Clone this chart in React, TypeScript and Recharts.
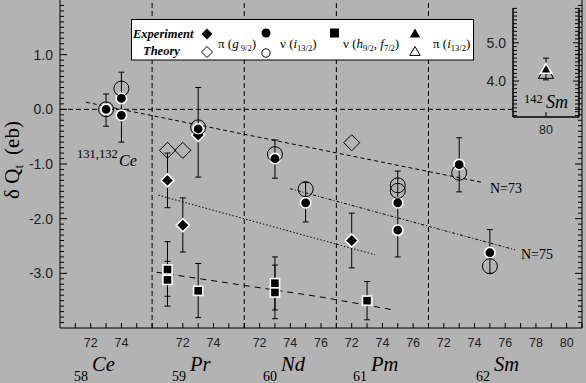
import React from 'react';
import { ComposedChart, Scatter, Line, XAxis, YAxis, ReferenceLine, ErrorBar } from 'recharts';

const SERIF = '"Liberation Serif", "Times New Roman", serif';
const SANS = '"Liberation Sans", Arial, sans-serif';
const BG = '#b3b3b3';

// element blocks along the bottom axis (each block is a neutron-number scale)
const elements = ['Ce', 'Pr', 'Nd', 'Pm', 'Sm'];
const protonNumbers = [58, 59, 60, 61, 62];
const blockFirstN = [70, 70, 71, 71, 71];
const blockSpan = [6, 6, 6, 6, 10];
const nTickLabels = [[72, 74], [72, 74], [72, 74, 76], [72, 74, 76], [72, 74, 76, 78, 80]];

const yTickLabels = [-3, -2, -1, 0, 1];

// [element, N, dQt (eb)]
const expPiG: [string, number, number][] = [
  ['Pr', 71, -1.3], ['Pr', 72, -2.12], ['Pr', 73, -0.47], ['Pm', 72, -2.4],
];
const thPiG: [string, number, number][] = [
  ['Pr', 71, -0.75], ['Pr', 72, -0.75], ['Pm', 72, -0.61],
];
const expNuI: [string, number, number][] = [
  ['Ce', 73, 0.0], ['Ce', 74, 0.2], ['Ce', 74, -0.11], ['Pr', 73, -0.36],
  ['Nd', 73, -0.9], ['Nd', 75, -1.71], ['Pm', 75, -1.71], ['Pm', 75, -2.21],
  ['Sm', 73, -1.01], ['Sm', 75, -2.62],
];
const thNuI: [string, number, number][] = [
  ['Ce', 73, 0.0], ['Ce', 74, 0.38], ['Pr', 73, -0.33], ['Nd', 73, -0.82],
  ['Nd', 75, -1.46], ['Pm', 75, -1.39], ['Pm', 75, -1.49], ['Sm', 73, -1.16],
  ['Sm', 75, -2.87],
];
const expNuHF: [string, number, number][] = [
  ['Pr', 71, -2.93], ['Pr', 71, -3.12], ['Pr', 73, -3.32],
  ['Nd', 73, -3.18], ['Nd', 73, -3.35], ['Pm', 73, -3.5],
];
// [element, N, upper, lower]
const errorRanges: [string, number, number, number][] = [
  ['Ce', 73, 0.28, -0.31], ['Ce', 74, 0.68, -0.6],
  ['Pr', 71, -0.8, -1.8], ['Pr', 71, -2.42, -3.42], ['Pr', 71, -2.78, -3.6],
  ['Pr', 72, -1.62, -2.61], ['Pr', 73, 0.4, -1.24], ['Pr', 73, -2.82, -3.81],
  ['Nd', 73, -0.56, -1.26], ['Nd', 73, -2.7, -3.67], ['Nd', 73, -2.85, -3.83],
  ['Nd', 75, -1.34, -2.06], ['Pm', 72, -1.9, -2.9], ['Pm', 73, -3.15, -3.85],
  ['Pm', 75, -1.13, -2.7], ['Sm', 73, -0.52, -1.51], ['Sm', 75, -2.2, -3.0],
];

// guide lines, x in axis units
const lineN73 = [{ g: 1.69, v: 0.13 }, { g: 27.56, v: -1.34 }];
const lineN75 = [{ g: 14.98, v: -1.45 }, { g: 29.64, v: -2.57 }];
const linePiG = [{ g: 6.4, v: -1.57 }, { g: 20.52, v: -2.66 }];
const lineNuHF = [{ g: 6.3, v: -2.98 }, { g: 16.94, v: -3.43 }, { g: 21.54, v: -3.66 }];
const zeroLine = [{ g: 0, v: 0 }, { g: 29.5, v: 0 }];

// inset: 142Sm
const insetYLabels = [4, 5];
const insetExp = [{ n: 80, v: 4.3, err: [0.27, 0.3] }];
const insetTheory = [{ n: 80, v: 4.2 }];

const blockStart = blockSpan.map((_, i) => blockSpan.slice(0, i).reduce((a, b) => a + b, 0));
const xMax = blockStart[4] + blockSpan[4];
const pos = (el: string, n: number) => {
  const i = elements.indexOf(el);
  return blockStart[i] + n - blockFirstN[i];
};
const toPts = (rows: [string, number, number][]) => rows.map(([el, n, v]) => ({ g: pos(el, n), v }));

const xTicks: number[] = [];
blockSpan.forEach((s, i) => { for (let k = 1; k <= s; k++) xTicks.push(blockStart[i] + k); });
const xLabelAt = new Map<number, string>();
nTickLabels.forEach((arr, i) => arr.forEach((n) => xLabelAt.set(pos(elements[i], n), String(n))));
const dividers = blockStart.slice(1);

const yTicks = Array.from({ length: 59 }, (_, i) => (i - 39) / 10);
const insetYTicks = Array.from({ length: 29 }, (_, i) => (i + 31) / 10);
const isLabel = (list: number[], v: number) => list.some((l) => Math.abs(l - v) < 1e-6);

const errorData = errorRanges.map(([el, n, hi, lo]) => ({
  g: pos(el, n), v: (hi + lo) / 2, err: [(hi - lo) / 2, (hi - lo) / 2],
}));

function BottomTick(p: any) {
  const label = xLabelAt.get(p.payload.value);
  return (
    <g>
      <line x1={p.x} x2={p.x} y1={p.y} y2={p.y - 5} stroke="#000" />
      {label && (
        <text x={p.x} y={p.y + 19} textAnchor="middle" fontFamily={SANS} fontSize={12.5} fill="#222">{label}</text>
      )}
    </g>
  );
}
function TopTick(p: any) {
  return <line x1={p.x} x2={p.x} y1={p.y} y2={p.y + 5} stroke="#000" />;
}
function LeftTick(p: any) {
  const v = p.payload.value;
  const major = isLabel(yTickLabels, v);
  return (
    <g>
      <line x1={p.x} x2={p.x + (Number.isInteger(Math.round(v * 10) / 10) ? 7 : 4)} y1={p.y} y2={p.y} stroke="#000" />
      {major && (
        <text x={p.x - 7} y={p.y + 5} textAnchor="end" fontFamily={SANS} fontSize={14} fill="#222">{v.toFixed(1)}</text>
      )}
    </g>
  );
}
function RightTick(p: any) {
  const v = p.payload.value;
  return <line x1={p.x} x2={p.x - (Number.isInteger(Math.round(v * 10) / 10) ? 7 : 4)} y1={p.y} y2={p.y} stroke="#000" />;
}
function InsetLeftTick(p: any) {
  const v = p.payload.value;
  const major = isLabel(insetYLabels, v);
  return (
    <g>
      <line x1={p.x} x2={p.x + (major ? 6 : 4)} y1={p.y} y2={p.y} stroke="#000" />
      {major && (
        <text x={p.x - 7} y={p.y + 5} textAnchor="end" fontFamily={SANS} fontSize={14} fill="#222">{v.toFixed(1)}</text>
      )}
    </g>
  );
}
function InsetRightTick(p: any) {
  const v = p.payload.value;
  return <line x1={p.x} x2={p.x - (isLabel(insetYLabels, v) ? 6 : 4)} y1={p.y} y2={p.y} stroke="#000" />;
}
function InsetBottomTick(p: any) {
  return (
    <g>
      <line x1={p.x} x2={p.x} y1={p.y} y2={p.y - 5} stroke="#000" />
      <text x={p.x} y={p.y + 17} textAnchor="middle" fontFamily={SANS} fontSize={12.5} fill="#222">{p.payload.value}</text>
    </g>
  );
}

const FilledCircle = ({ cx, cy }: any) => <circle cx={cx} cy={cy} r={5.2} fill="#000" stroke="#fff" strokeWidth={1.6} />;
const OpenCircle = ({ cx, cy }: any) => <circle cx={cx} cy={cy} r={7.5} fill="none" stroke="#000" strokeWidth={1} />;
const diamond = (cx: number, cy: number, h: number) => `${cx},${cy - h} ${cx + h},${cy} ${cx},${cy + h} ${cx - h},${cy}`;
const FilledDiamond = ({ cx, cy }: any) => <polygon points={diamond(cx, cy, 6.5)} fill="#000" stroke="#fff" strokeWidth={1.6} />;
const OpenDiamond = ({ cx, cy }: any) => <polygon points={diamond(cx, cy, 8)} fill="none" stroke="#000" strokeWidth={1} />;
const FilledSquare = ({ cx, cy }: any) => <rect x={cx - 4.6} y={cy - 4.6} width={9.2} height={9.2} fill="#000" stroke="#fff" strokeWidth={1.6} />;
const tri = (cx: number, cy: number, s: number) => `${cx},${cy - s} ${cx + s * 0.95},${cy + s * 0.62} ${cx - s * 0.95},${cy + s * 0.62}`;
const FilledTriangle = ({ cx, cy }: any) => <polygon points={tri(cx, cy, 6)} fill="#000" stroke="#fff" strokeWidth={1.6} />;
const OpenTriangle = ({ cx, cy }: any) => <polygon points={tri(cx, cy, 8)} fill="none" stroke="#000" strokeWidth={1} />;
const Nothing = () => <g />;

function MainChart() {
  return (
    <ComposedChart width={586} height={383} margin={{ top: 0, right: 0, bottom: 0, left: 0 }}>
      <XAxis type="number" dataKey="g" domain={[0, xMax]} allowDataOverflow ticks={xTicks} interval={0}
        tick={(p: any) => <BottomTick {...p} />} tickLine={false} tickSize={0} tickMargin={0} height={55}
        axisLine={{ stroke: '#000' }} />
      <XAxis xAxisId="top" orientation="top" type="number" domain={[0, xMax]} allowDataOverflow ticks={xTicks} interval={0}
        tick={(p: any) => <TopTick {...p} />} tickLine={false} tickSize={0} tickMargin={0} height={0}
        axisLine={{ stroke: '#000', strokeWidth: 2 }} />
      <YAxis type="number" dataKey="v" domain={[-4, 2]} allowDataOverflow ticks={yTicks} interval={0}
        tick={(p: any) => <LeftTick {...p} />} tickLine={false} tickSize={0} tickMargin={0} width={60}
        axisLine={{ stroke: '#000' }} />
      <YAxis yAxisId="right" orientation="right" type="number" domain={[-4, 2]} allowDataOverflow ticks={yTicks} interval={0}
        tick={(p: any) => <RightTick {...p} />} tickLine={false} tickSize={0} tickMargin={0} width={4}
        axisLine={{ stroke: '#000' }} />
      {dividers.map((d) => (
        <ReferenceLine key={d} x={d} stroke="#000" strokeDasharray="5 3" />
      ))}
      <Line data={zeroLine} dataKey="v" dot={false} stroke="#000" strokeDasharray="5 3" isAnimationActive={false} />
      <Line data={lineN73} dataKey="v" dot={false} stroke="#000" strokeDasharray="4 3" isAnimationActive={false} />
      <Line data={lineN75} dataKey="v" dot={false} stroke="#000" strokeDasharray="3 2 1 2" isAnimationActive={false} />
      <Line data={linePiG} dataKey="v" dot={false} stroke="#000" strokeDasharray="1.5 2" isAnimationActive={false} />
      <Line data={lineNuHF} dataKey="v" dot={false} stroke="#000" strokeDasharray="6 5" isAnimationActive={false} />
      <Scatter data={errorData} shape={Nothing} isAnimationActive={false}>
        <ErrorBar dataKey="err" direction="y" width={3} stroke="#000" strokeWidth={1} />
      </Scatter>
      <Scatter data={toPts(thPiG)} shape={OpenDiamond} isAnimationActive={false} />
      <Scatter data={toPts(expPiG)} shape={FilledDiamond} isAnimationActive={false} />
      <Scatter data={toPts(expNuI)} shape={FilledCircle} isAnimationActive={false} />
      <Scatter data={toPts(thNuI)} shape={OpenCircle} isAnimationActive={false} />
      <Scatter data={toPts(expNuHF)} shape={FilledSquare} isAnimationActive={false} />
    </ComposedChart>
  );
}

function InsetChart() {
  return (
    <ComposedChart width={106} height={140} margin={{ top: 8, right: 0, bottom: 0, left: 0 }}>
      <XAxis type="number" dataKey="n" domain={[79.5, 80.5]} allowDataOverflow ticks={[80]} interval={0}
        tick={(p: any) => <InsetBottomTick {...p} />} tickLine={false} tickSize={0} tickMargin={0} height={23}
        axisLine={{ stroke: '#000', strokeWidth: 1.5 }} />
      <XAxis xAxisId="top" orientation="top" type="number" domain={[79.5, 80.5]} allowDataOverflow ticks={[80]} interval={0}
        tick={(p: any) => <TopTick {...p} />} tickLine={false} tickSize={0} tickMargin={0} height={0}
        axisLine={{ stroke: '#000', strokeWidth: 1.5 }} />
      <YAxis type="number" dataKey="v" domain={[3.06, 5.91]} allowDataOverflow ticks={insetYTicks} interval={0}
        tick={(p: any) => <InsetLeftTick {...p} />} tickLine={false} tickSize={0} tickMargin={0} width={33}
        axisLine={{ stroke: '#000', strokeWidth: 1.5 }} />
      <YAxis yAxisId="right" orientation="right" type="number" domain={[3.06, 5.91]} allowDataOverflow ticks={insetYTicks} interval={0}
        tick={(p: any) => <InsetRightTick {...p} />} tickLine={false} tickSize={0} tickMargin={0} width={7}
        axisLine={{ stroke: '#000', strokeWidth: 1.5 }} />
      <Scatter data={insetTheory} shape={OpenTriangle} isAnimationActive={false} />
      <Scatter data={insetExp} shape={FilledTriangle} isAnimationActive={false}>
        <ErrorBar dataKey="err" direction="y" width={3} stroke="#000" strokeWidth={1} />
      </Scatter>
    </ComposedChart>
  );
}

function Overlay() {
  const sub = { fontSize: 8.5 };
  return (
    <svg width={586} height={383} style={{ position: 'absolute', left: 0, top: 0, pointerEvents: 'none' }}>
      {/* y axis title */}
      <text transform="translate(19,160) rotate(-90)" textAnchor="middle" fontFamily={SERIF} fontSize={21} fill="#000">
        δ Q<tspan fontSize={13} dy={4}>t</tspan><tspan dy={-4} dx={10}>(eb)</tspan>
      </text>
      {/* element names under the axis */}
      {elements.map((el, i) => {
        const xs = [74, 172, 263, 353, 476][i];
        return (
          <g key={el}>
            <text x={xs} y={381} fontFamily={SERIF} fontSize={14} fill="#000">{protonNumbers[i]}</text>
            <text x={xs + 18} y={371} fontFamily={SERIF} fontStyle="italic" fontSize={20.5} fill="#000">{el}</text>
          </g>
        );
      })}
      {/* annotations */}
      <text x={77} y={158} fontFamily={SERIF} fontSize={12.5} fill="#000">131,132</text>
      <text x={119} y={166} fontFamily={SERIF} fontStyle="italic" fontSize={16} fill="#000">Ce</text>
      <text x={490} y={193} fontFamily={SERIF} fontSize={14} fill="#000">N=73</text>
      <text x={521} y={259} fontFamily={SERIF} fontSize={14} fill="#000">N=75</text>
      <text x={524} y={103} fontFamily={SERIF} fontSize={12.5} fill="#000">142</text>
      <text x={546} y={108} fontFamily={SERIF} fontStyle="italic" fontSize={18} fill="#000">Sm</text>
      {/* legend */}
      <rect x={131.5} y={19.5} width={342} height={40.5} fill="#fff" stroke="#000" />
      <text x={133} y={38} fontFamily={SERIF} fontStyle="italic" fontWeight="bold" fontSize={12.5} fill="#000">Experiment</text>
      <text x={143} y={55} fontFamily={SERIF} fontStyle="italic" fontWeight="bold" fontSize={12.5} fill="#000">Theory</text>
      <polygon points={diamond(207, 34, 5.5)} fill="#000" />
      <polygon points={diamond(207, 52, 5.5)} fill="#fff" stroke="#000" />
      <circle cx={266} cy={33} r={4.5} fill="#000" />
      <circle cx={266} cy={53} r={4.2} fill="#fff" stroke="#000" />
      <rect x={330} y={28.5} width={9} height={9} fill="#000" />
      <polygon points={tri(415, 34, 5.5)} fill="#000" />
      <polygon points={tri(415, 52, 5.5)} fill="#fff" stroke="#000" />
      <g fontFamily={SERIF} fontSize={13} fill="#000">
        <text x={218} y={48}>π (<tspan fontStyle="italic">g</tspan><tspan {...sub} dy={3}> 9/2</tspan><tspan dy={-3}>)</tspan></text>
        <text x={280} y={48}>ν (<tspan fontStyle="italic">i</tspan><tspan {...sub} dy={3}>13/2</tspan><tspan dy={-3}>)</tspan></text>
        <text x={343} y={48}>ν (<tspan fontStyle="italic">h</tspan><tspan {...sub} dy={3}>9/2</tspan><tspan dy={-3}>, </tspan><tspan fontStyle="italic">f</tspan><tspan {...sub} dy={3}>7/2</tspan><tspan dy={-3}>)</tspan></text>
        <text x={433} y={48}>π (<tspan fontStyle="italic">i</tspan><tspan {...sub} dy={3}>13/2</tspan><tspan dy={-3}>)</tspan></text>
      </g>
    </svg>
  );
}

export default function App() {
  return (
    <div style={{ position: 'fixed', left: 0, top: 0, width: 586, height: 383, background: BG, overflow: 'hidden' }}>
      <div style={{ position: 'absolute', left: 0, top: 0 }}>
        <MainChart />
      </div>
      <div style={{ position: 'absolute', left: 480, top: 0 }}>
        <InsetChart />
      </div>
      <Overlay />
    </div>
  );
}
